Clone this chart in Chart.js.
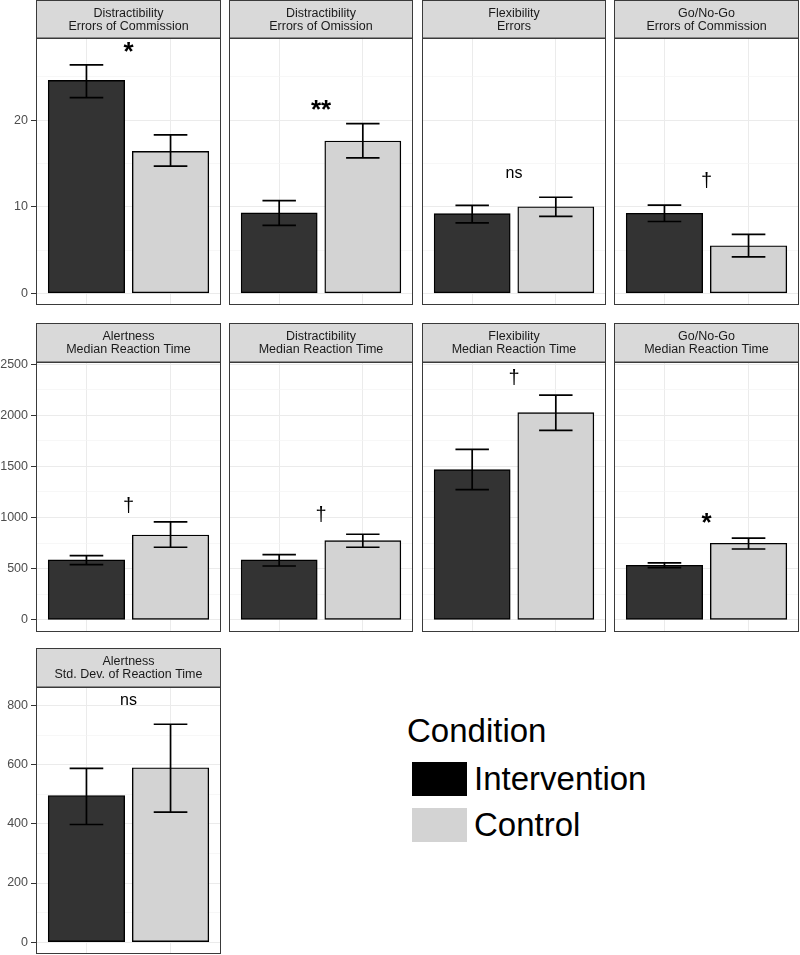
<!DOCTYPE html>
<html>
<head>
<meta charset="utf-8">
<script src="https://cdn.jsdelivr.net/npm/chart.js@4.4.1/dist/chart.umd.min.js"></script>
<style>
  html, body { margin: 0; padding: 0; background: #fff; }
  body { width: 800px; height: 955px; position: relative; overflow: hidden;
         font-family: "Liberation Sans", Arial, sans-serif; }
  .panel { position: absolute; }
  .legend-title, .legend-label { position: absolute; font-size: 33px; color: #000; line-height: 38px; white-space: nowrap; }
  .legend-key { position: absolute; width: 55px; height: 34px; }
</style>
</head>
<body>
<div id="root"></div>
<script>
'use strict';

// ─── DATA ────────────────────────────────────────────────────────────────────
const conditions = ['Intervention', 'Control'];

const panelTitles = [
  ['Distractibility', 'Errors of Commission'],
  ['Distractibility', 'Errors of Omission'],
  ['Flexibility', 'Errors'],
  ['Go/No-Go', 'Errors of Commission'],
  ['Alertness', 'Median Reaction Time'],
  ['Distractibility', 'Median Reaction Time'],
  ['Flexibility', 'Median Reaction Time'],
  ['Go/No-Go', 'Median Reaction Time'],
  ['Alertness', 'Std. Dev. of Reaction Time']
];
const panelRow = [0, 0, 0, 0, 1, 1, 1, 1, 2];

const interventionMean = [24.6, 9.3, 9.2, 9.25, 586, 586, 1468, 534, 496];
const interventionLow  = [22.6, 7.85, 8.15, 8.3, 540, 527, 1273, 511, 398];
const interventionHigh = [26.4, 10.7, 10.15, 10.2, 628, 638, 1667, 557, 588];

const controlMean = [16.4, 17.6, 10.0, 5.5, 830, 775, 2025, 749, 590];
const controlLow  = [14.7, 15.65, 8.9, 4.2, 710, 710, 1852, 693, 440];
const controlHigh = [18.3, 19.6, 11.1, 6.8, 957, 837, 2197, 800, 737];

const sigLabels = ['*', '**', 'ns', '†', '†', '†', '†', '*', 'ns'];
const sigY      = [28.5, 21.8, 13.9, 13.15, 1123, 1032, 2376, 993, 816];

const rowMajorTicks = [[0, 10, 20], [0, 500, 1000, 1500, 2000, 2500], [0, 200, 400, 600, 800]];
const rowMinorTicks = [[5, 15, 25], [250, 750, 1250, 1750, 2250], [100, 300, 500, 700]];
const rowRanges = [[-1.35, 29.5], [-118, 2520], [-40, 863]];

// ─── LAYOUT / STYLE ─────────────────────────────────────────────────────────
const FONT = '"Liberation Sans", Arial, sans-serif';
const COLS = [[36, 221], [229, 413], [422, 606], [614, 799]];
const ROWS = [
  { strip: 0,   top: 38,  bottom: 305 },
  { strip: 323, top: 362, bottom: 632 },
  { strip: 648, top: 687, bottom: 954 }
];
const AXIS_W = 36;
const X_MIN = 0.4, X_MAX = 2.6;
const BAR_FILL = ['#333333', '#d3d3d3'];
const KEY_FILL = ['#000000', '#d3d3d3'];
const LINE = '#3a3a3a';

// strip + panel border
const facetPlugin = {
  id: 'facet',
  afterDraw(chart, args, opts) {
    const { ctx, chartArea: a } = chart;
    ctx.save();
    const sTop = 0.5;
    ctx.fillStyle = '#d9d9d9';
    ctx.fillRect(a.left + 0.5, sTop, a.right - a.left - 1, a.top - sTop);
    ctx.strokeStyle = LINE;
    ctx.lineWidth = 1;
    ctx.strokeRect(a.left + 0.5, sTop, a.right - a.left - 1, a.top - sTop);
    ctx.fillStyle = '#1a1a1a';
    ctx.font = '12.5px ' + FONT;
    ctx.textAlign = 'center';
    ctx.textBaseline = 'middle';
    const cx = (a.left + a.right) / 2;
    const cy = (sTop + a.top) / 2;
    ctx.fillText(opts.title[0], cx, cy - 6);
    ctx.fillText(opts.title[1], cx, cy + 7);
    ctx.strokeRect(a.left + 0.5, a.top + 0.5, a.right - a.left - 1, a.bottom - a.top - 1);
    ctx.restore();
  }
};

// error bars + significance label
const errorBarPlugin = {
  id: 'errbars',
  afterDatasetsDraw(chart, args, opts) {
    const { ctx, scales: { x, y } } = chart;
    const half = Math.abs(x.getPixelForValue(1.2) - x.getPixelForValue(1));
    ctx.save();
    ctx.strokeStyle = '#000';
    ctx.lineWidth = 1.7;
    opts.low.forEach((lo, i) => {
      const px = x.getPixelForValue(i + 1);
      const yl = y.getPixelForValue(lo);
      const yh = y.getPixelForValue(opts.high[i]);
      ctx.beginPath();
      ctx.moveTo(px - half, yh); ctx.lineTo(px + half, yh);
      ctx.moveTo(px, yh); ctx.lineTo(px, yl);
      ctx.moveTo(px - half, yl); ctx.lineTo(px + half, yl);
      ctx.stroke();
    });
    const isStar = opts.label.indexOf('*') >= 0;
    const size = isStar ? 26 : (opts.label === 'ns' ? 16 : 20);
    ctx.font = (isStar ? 'bold ' : '') + size + 'px ' + FONT;
    ctx.fillStyle = '#000';
    ctx.textAlign = 'center';
    ctx.textBaseline = 'alphabetic';
    const m = ctx.measureText(opts.label);
    const py = y.getPixelForValue(opts.labelY);
    ctx.fillText(opts.label, x.getPixelForValue(1.5),
      py + (m.actualBoundingBoxAscent - m.actualBoundingBoxDescent) / 2);
    ctx.restore();
  }
};

function renderPanel(i) {
  const col = i % 4;
  const r = panelRow[i];
  const row = ROWS[r];
  const [pl, pr] = COLS[col];
  const showAxis = col === 0;
  const left = showAxis ? pl - AXIS_W : pl;
  const width = pr - left + 1;
  const height = row.bottom - row.strip + 1;
  const unitPx = (pr - pl) / (X_MAX - X_MIN);

  const wrap = document.createElement('div');
  wrap.className = 'panel';
  Object.assign(wrap.style, { left: left + 'px', top: row.strip + 'px', width: width + 'px', height: height + 'px' });
  const cv = document.createElement('canvas');
  wrap.appendChild(cv);
  document.getElementById('root').appendChild(wrap);

  const majors = rowMajorTicks[r];
  const allTicks = majors.concat(rowMinorTicks[r]).sort((a, b) => a - b);
  const isMajor = v => majors.indexOf(v) >= 0;

  new Chart(cv, {
    type: 'bar',
    data: {
      datasets: [{
        data: [
          { x: 1, y: interventionMean[i] },
          { x: 2, y: controlMean[i] }
        ],
        backgroundColor: BAR_FILL,
        borderColor: '#000',
        borderWidth: 1.4,
        borderSkipped: false,
        grouped: false,
        barThickness: unitPx * 0.91
      }]
    },
    options: {
      responsive: true,
      maintainAspectRatio: false,
      animation: false,
      layout: { padding: { top: row.top - row.strip, right: 1, bottom: 1, left: 0 } },
      plugins: {
        legend: { display: false },
        tooltip: { enabled: false },
        facet: { title: panelTitles[i] },
        errbars: {
          low: [interventionLow[i], controlLow[i]],
          high: [interventionHigh[i], controlHigh[i]],
          label: sigLabels[i],
          labelY: sigY[i]
        }
      },
      scales: {
        x: {
          type: 'linear',
          min: X_MIN, max: X_MAX,
          offset: false,
          afterBuildTicks: s => { s.ticks = [{ value: 1 }, { value: 2 }]; },
          afterFit: s => { s.height = 0; s.paddingLeft = 0; s.paddingRight = 0; },
          ticks: { display: false },
          grid: { color: '#ebebeb', lineWidth: 1, drawTicks: false, offset: false },
          border: { display: false }
        },
        y: {
          type: 'linear',
          min: rowRanges[r][0], max: rowRanges[r][1],
          afterBuildTicks: s => { s.ticks = allTicks.map(v => ({ value: v })); },
          afterFit: s => { s.width = showAxis ? AXIS_W : 0; s.paddingTop = 0; s.paddingBottom = 0; },
          ticks: {
            display: showAxis,
            color: '#4d4d4d',
            font: { family: FONT, size: 12.5 },
            padding: 3,
            callback: v => isMajor(v) ? String(v) : ''
          },
          grid: {
            color: c => isMajor(c.tick.value) ? '#ebebeb' : '#f3f3f3',
            lineWidth: c => isMajor(c.tick.value) ? 1 : 0.7,
            drawTicks: showAxis,
            tickLength: 5,
            tickColor: c => isMajor(c.tick.value) ? '#333' : 'rgba(0,0,0,0)'
          },
          border: { display: false }
        }
      }
    },
    plugins: [facetPlugin, errorBarPlugin]
  });
}

function renderLegend() {
  const root = document.getElementById('root');
  const title = document.createElement('div');
  title.className = 'legend-title';
  title.textContent = 'Condition';
  Object.assign(title.style, { left: '407px', top: '712px' });
  root.appendChild(title);
  conditions.forEach((name, k) => {
    const key = document.createElement('div');
    key.className = 'legend-key';
    Object.assign(key.style, { left: '412px', top: (762 + k * 46) + 'px', background: KEY_FILL[k] });
    root.appendChild(key);
    const lab = document.createElement('div');
    lab.className = 'legend-label';
    lab.textContent = name;
    Object.assign(lab.style, { left: '474px', top: (760 + k * 46) + 'px' });
    root.appendChild(lab);
  });
}

panelTitles.forEach((t, i) => renderPanel(i));
renderLegend();
</script>
</body>
</html>
